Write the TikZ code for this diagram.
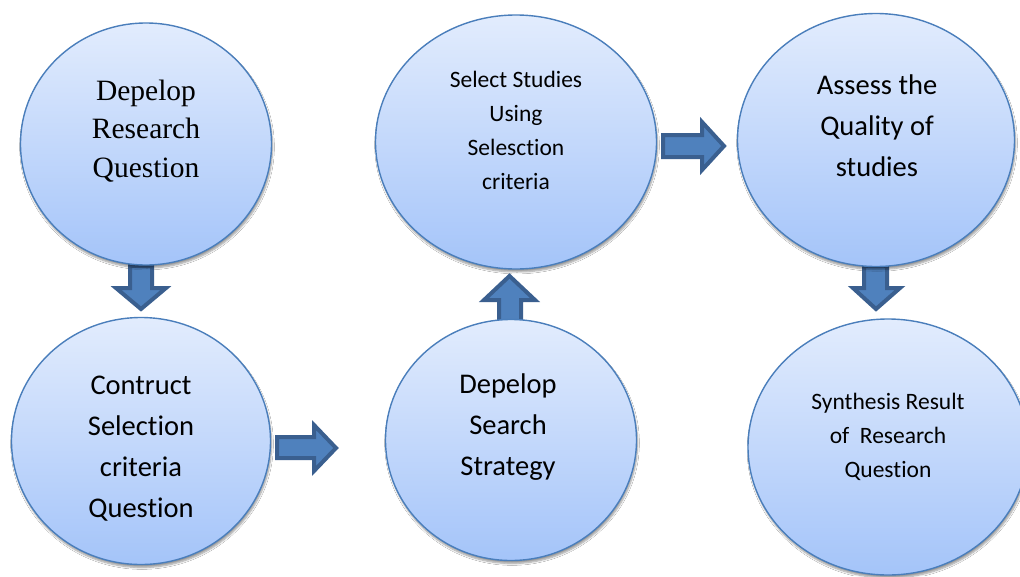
\documentclass[tikz,border=0pt]{standalone}
\usepackage{fontspec}
\setmainfont{Liberation Serif}
\newfontfamily\carlito[Ligatures=NoCommon]{Carlito}
\usetikzlibrary{shapes.geometric,shadows.blur}
\definecolor{circtop}{HTML}{E2ECFD}
\definecolor{circbot}{HTML}{A4C4F9}
\definecolor{circline}{HTML}{4A7EBB}
\definecolor{arrfill}{HTML}{4F81BD}
\definecolor{arrline}{HTML}{3A5F8F}
\tikzset{
  bubble/.style={ellipse, draw=circline, line width=1.4pt, top color=circtop, bottom color=circbot,
    blur shadow={shadow xshift=1pt, shadow yshift=-3pt, shadow blur steps=6, shadow opacity=40}},
  blockarrow/.style={fill=arrfill, draw=arrline, line width=4pt, line join=miter},
  serif28/.style={align=center, font=\fontsize{29.5}{38.5}\selectfont},
  sans28/.style={align=center, font=\carlito\fontsize{28.5}{41}\selectfont},
  sans24/.style={align=center, font=\carlito\fontsize{23.5}{34}\selectfont},
}
\begin{document}
\begin{tikzpicture}[x=1pt,y=-1pt]
\useasboundingbox (0,0) rectangle (1020,576);
\clip (0,0) rectangle (1020,576);
\fill[white] (0,0) rectangle (1020,576);
% block arrows
\draw[blockarrow] (130,266)--(152,266)--(152,288)--(166,288)--(141,309)--(116,288)--(130,288)--cycle;
\draw[blockarrow] (277,437)--(314,437)--(314,425)--(336,448)--(314,471)--(314,458)--(277,458)--cycle;
\draw[blockarrow] (499,321)--(499,300)--(484,300)--(509.5,276)--(535,300)--(521,300)--(521,321)--cycle;
\draw[blockarrow] (663,135)--(702,135)--(702,122)--(724,146)--(702,170)--(702,157)--(663,157)--cycle;
\draw[blockarrow] (864,266)--(887,266)--(887,288)--(900,288)--(876,309)--(853,288)--(864,288)--cycle;
% circles
\node[bubble, minimum width=251pt, minimum height=242pt] (c1) at (146,144) {};
\node[bubble, minimum width=259pt, minimum height=247pt] (c2) at (141,441) {};
\node[bubble, minimum width=251pt, minimum height=241pt] (c3) at (511,440) {};
\node[bubble, minimum width=281pt, minimum height=254pt] (c4) at (516,142) {};
\node[bubble, minimum width=277pt, minimum height=253pt] (c5) at (876,140) {};
\node[bubble, minimum width=280pt, minimum height=256pt] (c6) at (888,447) {};
% texts
\node[serif28] (t1) at (146,131) {Depelop\\Research\\Question};
\node[sans28] (t2) at (141,449) {Contruct\\Selection\\criteria\\Question};
\node[sans28] (t3) at (508,427) {Depelop\\Search\\Strategy};
\node[sans24] (t4) at (516,130) {Select Studies\\Using\\Selesction\\criteria};
\node[sans28] (t5) at (877,126) {Assess the\\Quality of\\studies};
\node[sans24] (t6) at (888,437) {Synthesis Result\\of~ Research\\Question};
\end{tikzpicture}
\end{document}
